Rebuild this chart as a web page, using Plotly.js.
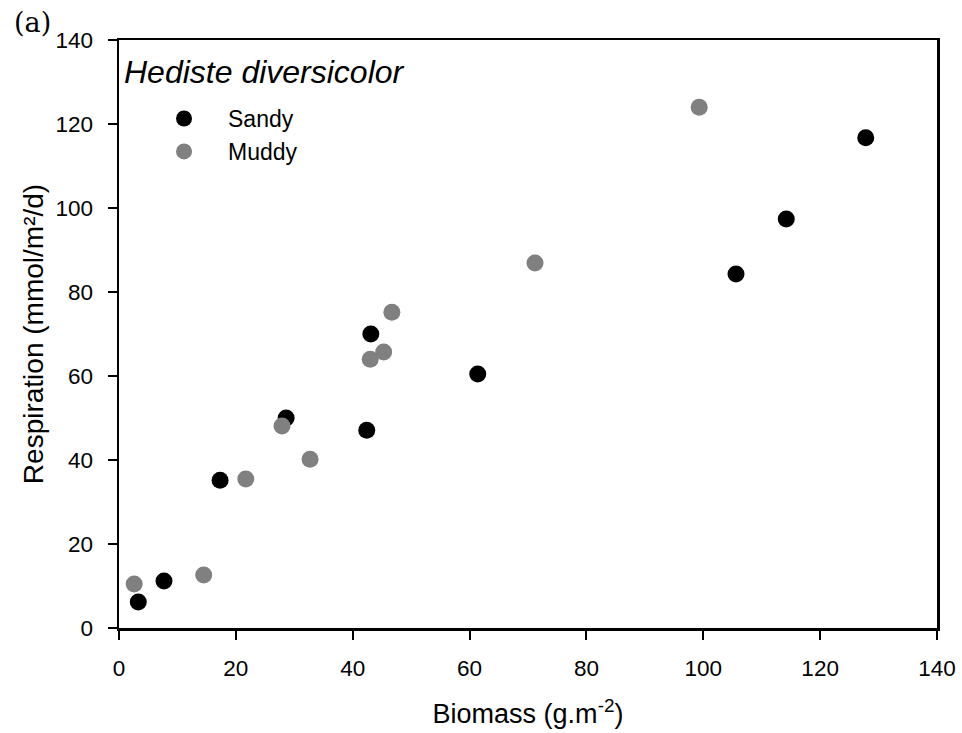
<!DOCTYPE html>
<html>
<head>
<meta charset="utf-8">
<script src="https://cdn.plot.ly/plotly-3.0.1.min.js"></script>
<style>html,body{margin:0;padding:0;background:#fff;}#chart{width:962px;height:733px;}</style>
</head>
<body>
<div id="chart"></div>
<script>
var sandyBiomass = [3.3, 7.7, 17.3, 28.6, 42.4, 43.1, 61.4, 105.6, 114.2, 127.8];
var sandyResp    = [6.2, 11.2, 35.2, 50.0, 47.1, 70.0, 60.5, 84.3, 97.4, 116.7];
var muddyBiomass = [2.6, 14.5, 21.7, 27.9, 32.7, 43.0, 45.3, 46.7, 71.2, 99.3];
var muddyResp    = [10.5, 12.6, 35.5, 48.1, 40.2, 64.0, 65.7, 75.2, 86.9, 124.0];
var xTicks = [0, 20, 40, 60, 80, 100, 120, 140];
var yTicks = [0, 20, 40, 60, 80, 100, 120, 140];

var font = "Arial, 'Liberation Sans', sans-serif";
var traces = [
  {x: sandyBiomass, y: sandyResp, mode: 'markers', type: 'scatter', name: 'Sandy', legendgroup: 's',
   marker: {color: '#000000', size: 17}, cliponaxis: false},
  {x: muddyBiomass, y: muddyResp, mode: 'markers', type: 'scatter', name: 'Muddy', legendgroup: 'm',
   marker: {color: '#808080', size: 17}, cliponaxis: false}
];
var layout = {
  width: 962, height: 733,
  paper_bgcolor: '#fff', plot_bgcolor: '#fff',
  margin: {l: 119, r: 25, t: 40, b: 105},
  font: {family: font, color: '#000', size: 22},
  showlegend: true,
  legend: {x: 0.0257, y: 0.903, xanchor: 'left', yanchor: 'top', bgcolor: 'rgba(0,0,0,0)',
           font: {family: font, size: 23, color: '#000'}, itemwidth: 78, tracegroupgap: 0,
           traceorder: 'grouped'},
  xaxis: {range: [0, 140], tickvals: xTicks, ticktext: xTicks.map(String),
          ticks: 'outside', ticklen: 9, tickwidth: 2, tickcolor: '#000', ticklabelstandoff: 9,
          showgrid: false, zeroline: false, showline: true, linecolor: '#000', linewidth: 2.5,
          mirror: true, tickfont: {size: 22.5},
          title: {text: 'Biomass (g.m<sup>-2</sup>)', font: {size: 27}, standoff: 25}},
  yaxis: {range: [0, 140], tickvals: yTicks, ticktext: yTicks.map(String),
          ticks: 'outside', ticklen: 9, tickwidth: 2, tickcolor: '#000', ticklabelstandoff: 10,
          showgrid: false, zeroline: false, showline: true, linecolor: '#000', linewidth: 2.5,
          mirror: true, tickfont: {size: 22.5},
          title: {text: 'Respiration (mmol/m²/d)', font: {size: 28}, standoff: 4}},
  annotations: [
    {text: '(a)', xref: 'paper', yref: 'paper', x: -0.1308, y: 1.0306, xanchor: 'left', yanchor: 'middle',
     showarrow: false, font: {family: "'DejaVu Serif', 'Liberation Serif', serif", size: 27}},
    {text: '<i>Hediste diversicolor</i>', xref: 'paper', yref: 'paper', x: 0.004, y: 0.9456,
     xanchor: 'left', yanchor: 'middle', showarrow: false, font: {size: 32}}
  ]
};
Plotly.newPlot('chart', traces, layout, {displayModeBar: false, staticPlot: true});
</script>
</body>
</html>
